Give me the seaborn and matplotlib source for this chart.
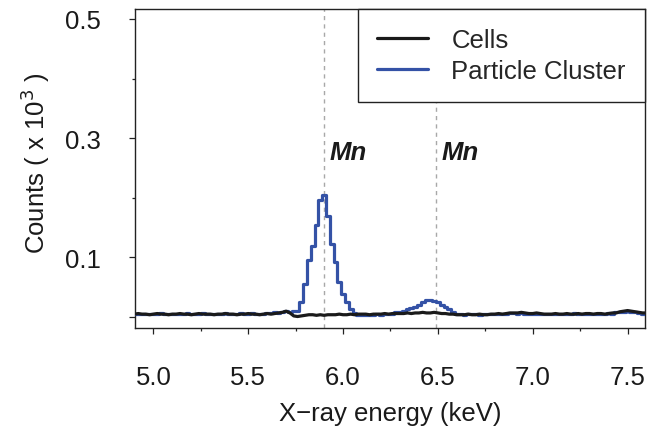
import numpy as np
import pandas as pd
import matplotlib
matplotlib.use("Agg")
import matplotlib.pyplot as plt
from matplotlib.ticker import FixedLocator
import seaborn as sns

# channel grid (keV), 0.02 keV channels
energy = np.round(np.arange(4.90, 7.601, 0.02), 2)

cells = [
    0.004, 0.005, 0.004, 0.004, 0.003, 0.004, 0.005, 0.004, 0.004, 0.003,
    0.004, 0.004, 0.005, 0.004, 0.004, 0.003, 0.004, 0.005, 0.004, 0.004,
    0.004, 0.003, 0.004, 0.004, 0.005, 0.004, 0.004, 0.003, 0.004, 0.004,
    0.005, 0.004, 0.004, 0.003, 0.004, 0.005, 0.004, 0.005, 0.006, 0.007,
    0.009, 0.006, 0.001, 0.000, 0.001, 0.002, 0.003, 0.003, 0.002, 0.003,
    0.002, 0.003, 0.003, 0.003, 0.004, 0.003, 0.003, 0.004, 0.003, 0.004,
    0.004, 0.004, 0.003, 0.004, 0.004, 0.004, 0.005, 0.004, 0.005, 0.005,
    0.005, 0.005, 0.006, 0.005, 0.006, 0.006, 0.007, 0.006, 0.006, 0.007,
    0.006, 0.005, 0.005, 0.004, 0.004, 0.003, 0.003, 0.003, 0.004, 0.003,
    0.003, 0.004, 0.003, 0.003, 0.004, 0.004, 0.005, 0.004, 0.005, 0.006,
    0.006, 0.006, 0.007, 0.006, 0.005, 0.005, 0.006, 0.005, 0.004, 0.004,
    0.004, 0.005, 0.004, 0.004, 0.005, 0.004, 0.004, 0.005, 0.004, 0.005,
    0.005, 0.004, 0.005, 0.005, 0.004, 0.005, 0.006, 0.006, 0.008, 0.009,
    0.010, 0.009, 0.008, 0.007, 0.006, 0.006,
]

particle = [
    0.005, 0.004, 0.005, 0.005, 0.004, 0.004, 0.005, 0.006, 0.005, 0.004,
    0.005, 0.004, 0.004, 0.005, 0.006, 0.004, 0.004, 0.005, 0.006, 0.005,
    0.004, 0.005, 0.004, 0.005, 0.006, 0.005, 0.004, 0.005, 0.006, 0.005,
    0.005, 0.006, 0.005, 0.004, 0.005, 0.006, 0.006, 0.007, 0.006, 0.007,
    0.009, 0.008, 0.009, 0.010, 0.025, 0.055, 0.095, 0.119, 0.153, 0.196,
    0.205, 0.169, 0.122, 0.092, 0.058, 0.038, 0.024, 0.013, 0.006, 0.002,
    0.002, 0.002, 0.003, 0.003, 0.004, 0.003, 0.004, 0.005, 0.005, 0.007,
    0.008, 0.010, 0.012, 0.014, 0.016, 0.020, 0.024, 0.027, 0.028, 0.026,
    0.024, 0.020, 0.016, 0.012, 0.008, 0.005, 0.004, 0.003, 0.004, 0.004,
    0.004, 0.003, 0.004, 0.004, 0.005, 0.004, 0.004, 0.005, 0.005, 0.006,
    0.006, 0.005, 0.006, 0.005, 0.005, 0.004, 0.005, 0.005, 0.004, 0.005,
    0.004, 0.005, 0.004, 0.005, 0.004, 0.005, 0.006, 0.004, 0.005, 0.004,
    0.005, 0.005, 0.004, 0.005, 0.005, 0.006, 0.005, 0.007, 0.008, 0.008,
    0.009, 0.008, 0.007, 0.006, 0.005, 0.005,
]

series_names = ["Cells", "Particle Cluster"]
series_colors = ["#1a1a1a", "#3452a6"]
line_energies = [5.90, 6.49]
line_labels = ["Mn", "Mn"]

x_major = [5.0, 5.5, 6.0, 6.5, 7.0, 7.5]
x_minor = [5.25, 5.75, 6.25, 6.75, 7.25]
y_major = [0.0, 0.1, 0.3, 0.5]
y_major_labels = ["", "0.1", "0.3", "0.5"]
y_minor = [0.2, 0.4]

df = pd.DataFrame({"energy": energy, "Cells": cells, "Particle Cluster": particle})

sns.set_style("ticks")
plt.rcParams["font.family"] = ["Liberation Sans", "DejaVu Sans"]
plt.rcParams["axes.unicode_minus"] = True

FS = 18.5

fig, ax = plt.subplots(figsize=(6.5, 4.35), dpi=100)
fig.subplots_adjust(left=135 / 650, right=645 / 650, top=1 - 10 / 435, bottom=1 - 329 / 435)

for x in line_energies:
    ax.axvline(x, color="#a8a8a8", lw=1.0, ls=(0, (3, 3)), zorder=1)

sns.lineplot(data=df, x="energy", y="Cells", ax=ax, color=series_colors[0],
             lw=2.3, label=series_names[0], zorder=4)
sns.lineplot(data=df, x="energy", y="Particle Cluster", ax=ax, color=series_colors[1],
             lw=2.3, drawstyle="steps-mid", label=series_names[1], zorder=3)

for x, lab in zip(line_energies, line_labels):
    ax.annotate(lab, xy=(x, 0.277), xytext=(4.0, 0), textcoords="offset points",
                ha="left", va="center", fontsize=FS, fontweight="bold", fontstyle="italic",
                color="#1a1a1a")

ax.set_xlim(4.903, 7.592)
ax.set_ylim(-0.0193, 0.5168)

ax.xaxis.set_major_locator(FixedLocator(x_major))
ax.set_xticklabels([f"{v:.1f}" for v in x_major])
ax.xaxis.set_minor_locator(FixedLocator(x_minor))
ax.yaxis.set_major_locator(FixedLocator(y_major))
ax.set_yticklabels(y_major_labels)
ax.yaxis.set_minor_locator(FixedLocator(y_minor))

ax.tick_params(axis="both", which="major", direction="out", length=4.5, width=0.9,
               color="#222222", labelsize=FS, labelcolor="#1a1a1a")
ax.tick_params(axis="x", which="major", pad=22)
ax.tick_params(axis="y", which="major", pad=20)
ax.tick_params(axis="x", which="minor", direction="out", length=2, width=0.9, color="#222222")
ax.tick_params(axis="y", which="minor", direction="out", length=2.5, width=0.9, color="#222222")

for s in ax.spines.values():
    s.set_visible(True)
    s.set_color("#222222")
    s.set_linewidth(1.0)

ax.set_xlabel("X\u2212ray energy (keV)", fontsize=FS, color="#1a1a1a")
ax.xaxis.set_label_coords(0.5, -0.228)
ax.set_ylabel("Counts ( x 10$^{3}$ )", fontsize=FS, color="#1a1a1a")
ax.yaxis.set_label_coords(-0.163, 0.52)

leg = ax.legend(loc="upper right", borderaxespad=0, fontsize=FS, frameon=True,
                fancybox=False, handlelength=2.0, handletextpad=0.9,
                labelspacing=0.25, borderpad=0.75)
frame = leg.get_frame()
frame.set_edgecolor("#222222")
frame.set_linewidth(1.0)
frame.set_alpha(1)
for h in leg.get_lines():
    h.set_linewidth(2.3)

fig.savefig("out.png", dpi=100)
